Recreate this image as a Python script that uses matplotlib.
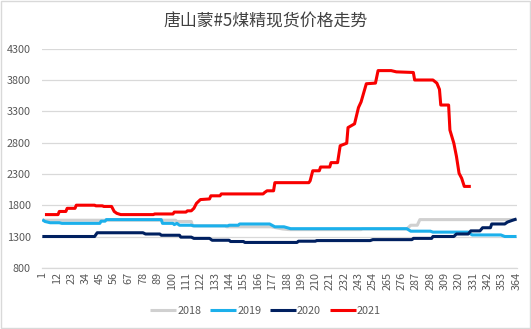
import matplotlib
matplotlib.use("Agg")
import matplotlib.pyplot as plt
from matplotlib.patches import Rectangle

plt.rcParams['font.family'] = ['Noto Sans CJK SC', 'DejaVu Sans']

title = "唐山蒙#5煤精现货价格走势"

# Day-of-year positions and prices (yuan/t) at each turning point of the series
days_2018 = [1, 103, 104, 115, 116, 141, 142, 176, 185, 190, 245, 246, 280, 283, 288, 290, 364]
price_2018 = [1560, 1560, 1540, 1540, 1470, 1470, 1455, 1455, 1420, 1410, 1410, 1420, 1420, 1480, 1480, 1570, 1570]

days_2019 = [1, 3, 7, 14, 16, 45, 46, 49, 50, 92, 93, 101, 102, 104, 106, 115, 117, 143, 144, 151, 152,
             175, 179, 186, 191, 280, 283, 298, 300, 327, 330, 352, 355, 364]
price_2019 = [1570, 1540, 1520, 1520, 1510, 1510, 1545, 1545, 1570, 1570, 1510, 1510, 1490, 1510, 1480, 1480,
              1470, 1470, 1480, 1480, 1500, 1500, 1455, 1455, 1425, 1425, 1385, 1385, 1370, 1370, 1325,
              1325, 1300, 1300]

days_2020 = [1, 41, 43, 78, 80, 91, 92, 106, 107, 115, 117, 129, 131, 144, 145, 155, 156, 196, 197, 210,
             211, 252, 254, 284, 285, 299, 300, 316, 318, 327, 329, 336, 338, 344, 345, 355, 357, 361, 364]
price_2020 = [1300, 1300, 1360, 1360, 1340, 1340, 1320, 1320, 1290, 1290, 1270, 1270, 1240, 1240, 1220,
              1220, 1205, 1205, 1225, 1225, 1235, 1235, 1250, 1250, 1270, 1270, 1300, 1300, 1340, 1340,
              1390, 1390, 1440, 1440, 1500, 1500, 1530, 1560, 1580]

days_2021 = [3, 13, 14, 19, 20, 26, 27, 41, 42, 47, 48, 54, 56, 58, 61, 86, 87, 101, 102, 111, 112, 115,
             117, 119, 122, 129, 130, 137, 138, 170, 171, 173, 178, 179, 205, 206, 208, 213, 214, 221,
             222, 227, 229, 234, 235, 240, 243, 245, 249, 256, 258, 268, 272, 285, 286, 300, 303, 305,
             306, 312, 313, 316, 318, 320, 322, 324, 329]
price_2021 = [1650, 1650, 1700, 1700, 1750, 1750, 1800, 1800, 1790, 1790, 1780, 1780, 1700, 1670, 1650,
              1650, 1660, 1660, 1690, 1690, 1710, 1710, 1750, 1830, 1890, 1900, 1950, 1950, 1980, 1980,
              2000, 2030, 2030, 2160, 2160, 2190, 2350, 2350, 2410, 2410, 2480, 2480, 2750, 2790, 3040,
              3100, 3360, 3450, 3740, 3750, 3950, 3950, 3930, 3920, 3800, 3800, 3750, 3650, 3400, 3400,
              3000, 2790, 2580, 2310, 2230, 2100, 2100]

series = [
    ("2018", days_2018, price_2018, "#d0d0d0"),
    ("2019", days_2019, price_2019, "#1cb0eb"),
    ("2020", days_2020, price_2020, "#002060"),
    ("2021", days_2021, price_2021, "#f80000"),
]

x_ticks = list(range(1, 365, 11))
y_ticks = list(range(800, 4301, 500))

fig = plt.figure(figsize=(5.31, 3.29), dpi=100)
ax = fig.add_axes([0.0785, 0.186, 0.8955, 0.666])

for name, d, p, c in series:
    ax.plot(d, p, color=c, lw=2.2, label=name, solid_joinstyle='round', solid_capstyle='butt')

ax.set_xlim(0.5, 364.5)
ax.set_ylim(800, 4300)
ax.set_yticks(y_ticks)
ax.set_xticks(x_ticks)
ax.set_xticklabels([str(t) for t in x_ticks], rotation=90)
ax.tick_params(axis='both', length=0, labelsize=7.8, colors='#595959')
ax.tick_params(axis='x', pad=3)
ax.tick_params(axis='y', pad=8)
ax.grid(axis='y', color='#d9d9d9', lw=0.9)
ax.set_axisbelow(True)
for s in ['top', 'right', 'left']:
    ax.spines[s].set_visible(False)
ax.spines['bottom'].set_color('#d9d9d9')
ax.spines['bottom'].set_linewidth(0.9)

fig.text(0.5, 0.935, title, ha='center', va='center', fontsize=12.2, color='#404040')

fig.legend(loc='lower center', bbox_to_anchor=(0.5, 0.01), ncol=4, frameon=False,
           fontsize=7.8, handlelength=2.4, handletextpad=0.1, columnspacing=0.8,
           labelcolor='#595959')

fig.patches.append(Rectangle((0.001, 0.002), 0.997, 0.995, transform=fig.transFigure,
                             fill=False, edgecolor='#d9d9d9', lw=1))

fig.savefig("out.png", dpi=100)
